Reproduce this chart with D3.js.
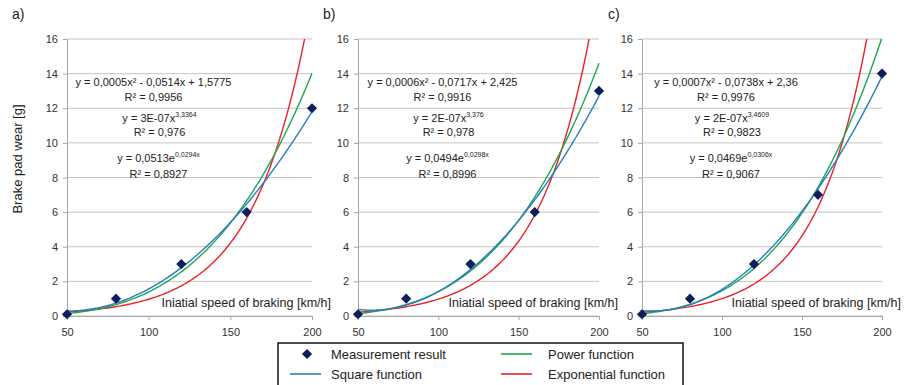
<!DOCTYPE html>
<html>
<head>
<meta charset="UTF-8">
<title>Brake pad wear</title>
<script src="https://cdn.jsdelivr.net/npm/d3@7"></script>
<style>
    body { margin: 0; background: #fff; }
    text { font-family: "Liberation Sans", Arial, sans-serif; fill: #222; }
</style>
</head>
<body>
<div id="chart"></div>
<script>
    const speeds = [50, 80, 120, 160, 200];
    const wearA = [0.1, 1, 3, 6, 12];
    const wearB = [0.1, 1, 3, 6, 13];
    const wearC = [0.1, 1, 3, 7, 14];
    const panelNames = ["a)", "b)", "c)"];
    const xTicks = [50, 100, 150, 200];
    const yTicks = [0, 2, 4, 6, 8, 10, 12, 14, 16];

    // trendline labels as printed in each panel: [main, superscript]
    const squareLabels = [
        ["y = 0,0005x² - 0,0514x + 1,5775", ""],
        ["y = 0,0006x² - 0,0717x + 2,425", ""],
        ["y = 0,0007x² - 0,0738x + 2,36", ""]
    ];
    const squareR2 = ["R² = 0,9956", "R² = 0,9916", "R² = 0,9976"];
    const powerLabels = [
        ["y = 3E-07x", "3,3364"],
        ["y = 2E-07x", "3,376"],
        ["y = 2E-07x", "3,4609"]
    ];
    const powerR2 = ["R² = 0,976", "R² = 0,978", "R² = 0,9823"];
    const expLabels = [
        ["y = 0,0513e", "0,0294x"],
        ["y = 0,0494e", "0,0298x"],
        ["y = 0,0469e", "0,0306x"]
    ];
    const expR2 = ["R² = 0,8927", "R² = 0,8996", "R² = 0,9067"];

    const colors = {square: "#2a7bc1", power: "#1fa64f", exp: "#e8222a", marker: "#0c1f5c"};

    const width = 917, height = 385;
    const svg = d3.select("#chart").append("svg")
        .attr("width", width).attr("height", height);

    // panel layout (pixel boxes)
    const panels = [
        {left: 67, right: 312, labelX: 12, data: wearA},
        {left: 358, right: 599, labelX: 323, data: wearB},
        {left: 642, right: 882, labelX: 608, data: wearC}
    ];
    const plotTop = 39, plotBottom = 316;

    // least squares helpers, the trendlines are fitted like the spreadsheet does
    function linFit(xs, ys) {
        const n = xs.length;
        const mx = d3.mean(xs), my = d3.mean(ys);
        let sxy = 0, sxx = 0;
        for (let i = 0; i < n; i++) {
            sxy += (xs[i] - mx) * (ys[i] - my);
            sxx += (xs[i] - mx) * (xs[i] - mx);
        }
        const b = sxy / sxx;
        return {a: my - b * mx, b: b};
    }
    function quadFit(xs, ys) {
        // normal equations for y = c0 + c1 x + c2 x^2
        const S = [0, 0, 0, 0, 0], T = [0, 0, 0];
        for (let i = 0; i < xs.length; i++) {
            for (let k = 0; k < 5; k++) S[k] += Math.pow(xs[i], k);
            for (let k = 0; k < 3; k++) T[k] += ys[i] * Math.pow(xs[i], k);
        }
        const M = [[S[0], S[1], S[2], T[0]], [S[1], S[2], S[3], T[1]], [S[2], S[3], S[4], T[2]]];
        for (let c = 0; c < 3; c++) {
            for (let r = c + 1; r < 3; r++) {
                const f = M[r][c] / M[c][c];
                for (let k = c; k < 4; k++) M[r][k] -= f * M[c][k];
            }
        }
        const c = [0, 0, 0];
        for (let r = 2; r >= 0; r--) {
            let s = M[r][3];
            for (let k = r + 1; k < 3; k++) s -= M[r][k] * c[k];
            c[r] = s / M[r][r];
        }
        return c;
    }

    const defs = svg.append("defs");
    // square turned 45 degrees, like the spreadsheet diamond marker
    const diamond = d3.symbol().type(d3.symbolSquare).size(52);

    panels.forEach((p, i) => {
        const x = d3.scaleLinear().domain([50, 200]).range([p.left, p.right]);
        const y = d3.scaleLinear().domain([0, 16]).range([plotBottom, plotTop]);
        const g = svg.append("g");

        defs.append("clipPath").attr("id", "clip" + i)
            .append("rect").attr("x", p.left).attr("y", plotTop)
            .attr("width", p.right - p.left + 2).attr("height", plotBottom - plotTop);

        // gridlines
        g.selectAll("line.grid").data(yTicks).enter().append("line")
            .attr("class", "grid")
            .attr("x1", p.left).attr("x2", p.right)
            .attr("y1", d => y(d)).attr("y2", d => y(d))
            .style("stroke", "#c4c4c4").style("stroke-width", 1);

        // y axis
        const yAxis = g.append("g").attr("transform", "translate(" + p.left + ",0)")
            .call(d3.axisLeft(y).tickValues(yTicks).tickSize(4).tickSizeOuter(0).tickPadding(5));
        yAxis.select(".domain").style("stroke", "#a6a6a6");
        yAxis.selectAll(".tick line").style("stroke", "#a6a6a6");
        yAxis.selectAll("text").style("font-size", "11px").style("fill", "#333")
            .style("font-family", "'Liberation Sans', Arial, sans-serif");

        // x axis
        const xAxis = g.append("g").attr("transform", "translate(0," + plotBottom + ")")
            .call(d3.axisBottom(x).tickValues(xTicks).tickSize(4).tickSizeOuter(0).tickPadding(8));
        xAxis.select(".domain").style("stroke", "#a6a6a6");
        xAxis.selectAll(".tick line").style("stroke", "#a6a6a6");
        xAxis.selectAll("text").style("font-size", "11px").style("fill", "#333")
            .style("font-family", "'Liberation Sans', Arial, sans-serif");

        // panel label
        g.append("text").attr("x", p.labelX).attr("y", 19)
            .style("font-size", "14px").text(panelNames[i]);

        // x title inside the plot
        g.append("text").attr("x", p.right + 19).attr("y", 307)
            .attr("text-anchor", "end").style("font-size", "12.5px")
            .text("Iniatial speed of braking [km/h]");

        // fitted trendlines
        const q = quadFit(speeds, p.data);
        const pw = linFit(speeds.map(Math.log), p.data.map(Math.log));
        const ex = linFit(speeds, p.data.map(Math.log));
        const xs = d3.range(50, 200.01, 1);
        const line = d3.line().x(d => x(d[0])).y(d => y(d[1]));
        const curves = [
            {color: colors.exp, pts: xs.map(v => [v, Math.exp(ex.a + ex.b * v)])},
            {color: colors.power, pts: xs.map(v => [v, Math.exp(pw.a) * Math.pow(v, pw.b)])},
            {color: colors.square, pts: xs.map(v => [v, q[0] + q[1] * v + q[2] * v * v])}
        ];
        g.append("g").attr("clip-path", "url(#clip" + i + ")")
            .selectAll("path").data(curves).enter().append("path")
            .attr("d", d => line(d.pts))
            .style("fill", "none").style("stroke", d => d.color).style("stroke-width", 1.4);

        // measurement markers
        g.selectAll("path.pt").data(speeds).enter().append("path")
            .attr("class", "pt")
            .attr("d", diamond)
            .attr("transform", (d, k) => "translate(" + x(d) + "," + y(p.data[k]) + ") rotate(45)")
            .style("fill", colors.marker);

        // equation labels
        const cx = (p.left + p.right) / 2;
        const labelRows = [
            {lab: squareLabels[i], dx: -36, y: 86},
            {lab: [squareR2[i], ""], dx: -36, y: 101},
            {lab: powerLabels[i], dx: -30, y: 122},
            {lab: [powerR2[i], ""], dx: -30, y: 136},
            {lab: expLabels[i], dx: -31, y: 162},
            {lab: [expR2[i], ""], dx: -31, y: 178}
        ];
        labelRows.forEach(r => {
            const t = g.append("text").attr("x", cx + r.dx).attr("y", r.y)
                .attr("text-anchor", "middle").style("font-size", "11px").style("fill", "#222");
            t.append("tspan").text(r.lab[0]);
            if (r.lab[1]) {
                t.append("tspan").attr("dy", -5).style("font-size", "7px").text(r.lab[1]);
            }
        });
    });

    // y axis title
    svg.append("text")
        .attr("transform", "translate(22,159) rotate(-90)")
        .attr("text-anchor", "middle").style("font-size", "13px")
        .text("Brake pad wear [g]");

    // legend
    const legend = svg.append("g");
    legend.append("rect").attr("x", 278).attr("y", 343).attr("width", 405).attr("height", 50)
        .style("fill", "#fff").style("stroke", "#111").style("stroke-width", 1.5);
    const legendItems = [
        {name: "Measurement result", kind: "marker", color: colors.marker, x: 290, y: 354},
        {name: "Power function", kind: "line", color: colors.power, x: 501, y: 354},
        {name: "Square function", kind: "line", color: colors.square, x: 290, y: 374},
        {name: "Exponential function", kind: "line", color: colors.exp, x: 501, y: 374}
    ];
    legendItems.forEach(it => {
        if (it.kind === "marker") {
            legend.append("path").attr("d", diamond)
                .attr("transform", "translate(" + (it.x + 17) + "," + it.y + ") rotate(45)")
                .style("fill", it.color);
        } else {
            legend.append("line").attr("x1", it.x).attr("x2", it.x + 31)
                .attr("y1", it.y).attr("y2", it.y)
                .style("stroke", it.color).style("stroke-width", 1.6);
        }
        legend.append("text").attr("x", it.x + (it.x === 290 ? 41 : 47)).attr("y", it.y + 5)
            .style("font-size", "13px").text(it.name);
    });
</script>
</body>
</html>
